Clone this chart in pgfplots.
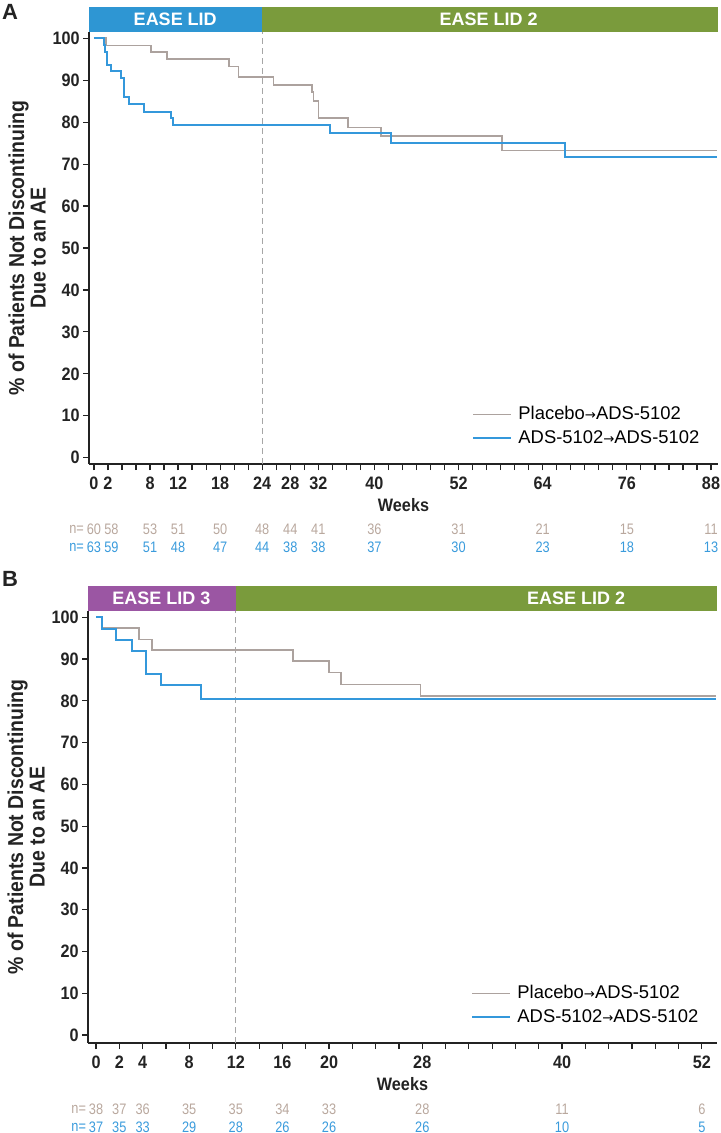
\documentclass[border=0pt]{standalone}
\usepackage{fontspec}
\setmainfont{Liberation Sans}
\newfontfamily\condfont[FakeStretch=0.9]{Liberation Sans}
\newfontfamily\narrowfont[FakeStretch=0.84]{Liberation Sans}
\newfontfamily\djv{DejaVu Sans}
\usepackage{pgfplots}
\pgfplotsset{compat=1.18}
\definecolor{cblue}{RGB}{52,152,219}
\definecolor{cgray}{RGB}{172,162,158}
\definecolor{hblue}{RGB}{46,150,211}
\definecolor{hgreen}{RGB}{122,155,60}
\definecolor{hpurple}{RGB}{155,86,163}
\definecolor{ngray}{RGB}{185,168,158}
\definecolor{nblue}{RGB}{58,155,220}
\definecolor{axc}{RGB}{35,35,35}
\newcommand\tickfont{\condfont\bfseries\fontsize{9}{11}\selectfont}
\newcommand\hfont{\bfseries\fontsize{9}{11}\selectfont}
\newcommand\nfont{\narrowfont\fontsize{7.6}{8.5}\selectfont}
\newcommand\arr{{\djv\fontsize{6.6}{8}\selectfont →}}
\pgfplotsset{kmstyle/.style={
  scale only axis, width=314.5pt, height=216pt,
  /pgf/number format/assume math mode=true,
  axis lines=left, axis line style={line width=0.8pt, draw=axc, -},
  ymin=-1.5, ymax=101.5, ytick={0,10,...,100},
  tick style={line width=0.6pt, draw=axc},
  tick align=outside,
  major tick length=3pt, minor tick length=3pt,
  ticklabel style={font=\tickfont, text=axc},
  yticklabel style={inner sep=1.5pt},
  clip=false,
  ylabel={\% of Patients Not Discontinuing\\Due to an AE},
  ylabel style={align=center, font=\condfont\bfseries\fontsize{10.8}{10.75}\selectfont, text=axc,
     at={(axis description cs:-0.0985,0.5)}, anchor=center},
  xlabel={Weeks},
  xlabel style={font=\tickfont, text=axc, at={(axis description cs:0.5,-0.0949)}, anchor=center},
  legend cell align=left,
  legend image code/.code={\draw[#1] (0pt,0pt) -- (19pt,0pt);},
  legend style={at={(rel axis cs:0.609,0.038)}, anchor=south west, draw=none, fill=none,
     font=\fontsize{9.2}{10}\selectfont, inner sep=0pt, row sep=3.2pt, column sep=3pt,
     nodes={inner sep=0pt, text height=6.8pt, text depth=2pt}},
}}
\begin{document}
\begin{tikzpicture}
\useasboundingbox (0,0) rectangle (360.5pt,-566.5pt);
\node[font=\bfseries\fontsize{11}{12}\selectfont, text=axc] at (5pt,-6pt) {A};
\node[font=\bfseries\fontsize{11}{12}\selectfont, text=axc] at (5pt,-289.5pt) {B};
% ---------------- Panel A
\begin{axis}[kmstyle, at={(44.5pt,-232pt)}, anchor=south west,
  xmin=-0.7, xmax=89,
  xtick={0,2,8,12,18,24,28,32,40,52,64,76,88},
  minor xtick={0,2,...,88}]
\fill[hblue] (rel axis cs:0,1) rectangle ([yshift=12.5pt]axis cs:24,101.5);
\fill[hgreen] (axis cs:24,101.5) rectangle ([yshift=12.5pt]rel axis cs:1,1);
\node[white, font=\hfont] at ([yshift=6.25pt]axis cs:11.6,101.5) {EASE LID};
\node[white, font=\hfont] at ([yshift=6.25pt]axis cs:56.3,101.5) {EASE LID 2};
\addplot[gray!70, line width=0.6pt, dash pattern=on 3pt off 2pt, forget plot] coordinates {(24,-1.5) (24,101.5)};
\addplot[cgray, line width=0.8pt, const plot] coordinates {
(0,100) (1.7,98.3) (8.1,96.7) (10.4,95.0) (19.3,93.3) (20.6,90.8) (25.6,88.9)
(31.1,87.2) (31.3,85.1) (32.0,81.0) (36.2,78.7) (40.9,76.7) (58.2,73.2) (88.8,73.2)};
\addlegendentry{Placebo\arr ADS-5102}
\addplot[cblue, line width=1pt, const plot] coordinates {
(0,100) (1.4,98.4) (1.55,96.8) (1.8,93.7) (2.4,92.1) (3.8,90.5) (4.3,85.9) (5.0,84.3)
(7.1,82.5) (11.0,81.0) (11.3,79.4) (33.6,77.3) (42.4,75.1) (67.2,71.7) (88.8,71.7)};
\addlegendentry{ADS-5102\arr ADS-5102}
\addplot[draw=none, forget plot, nodes near coords, point meta=explicit symbolic,
  nodes near coords style={anchor=center, text=ngray, font=\nfont, inner sep=0pt}] coordinates {
(0,-17.1)[60] (2.5,-17.1)[58] (8,-17.1)[53] (12,-17.1)[51] (18,-17.1)[50] (24,-17.1)[48]
(28,-17.1)[44] (32,-17.1)[41] (40,-17.1)[36] (52,-17.1)[31] (64,-17.1)[21] (76,-17.1)[15] (88,-17.1)[11]};
\addplot[draw=none, forget plot, nodes near coords, point meta=explicit symbolic,
  nodes near coords style={anchor=center, text=nblue, font=\nfont, inner sep=0pt}] coordinates {
(0,-21.4)[63] (2.5,-21.4)[59] (8,-21.4)[51] (12,-21.4)[48] (18,-21.4)[47] (24,-21.4)[44]
(28,-21.4)[38] (32,-21.4)[38] (40,-21.4)[37] (52,-21.4)[30] (64,-21.4)[23] (76,-21.4)[18] (88,-21.4)[13]};
\node[anchor=east, text=ngray, font=\nfont, inner sep=0pt] at ([xshift=-4.8pt]axis cs:0,-17.1) {n=};
\node[anchor=east, text=nblue, font=\nfont, inner sep=0pt] at ([xshift=-4.8pt]axis cs:0,-21.4) {n=};
\end{axis}
% ---------------- Panel B
\begin{axis}[kmstyle, at={(44pt,-521.5pt)}, anchor=south west,
  xmin=-0.69, xmax=53.3, ymin=-1.9,
  xtick={0,2,4,8,12,16,20,28,40,52},
  minor xtick={0,2,...,52}]
\fill[hpurple] (rel axis cs:0,1) rectangle ([yshift=12.5pt]axis cs:12,101.5);
\fill[hgreen] (axis cs:12,101.5) rectangle ([yshift=12.5pt]rel axis cs:1,1);
\node[white, font=\hfont] at ([yshift=6.25pt]axis cs:5.6,101.5) {EASE LID 3};
\node[white, font=\hfont] at ([yshift=6.25pt]axis cs:41.2,101.5) {EASE LID 2};
\addplot[gray!70, line width=0.6pt, dash pattern=on 3pt off 2pt, forget plot] coordinates {(12,-1.9) (12,101.5)};
\addplot[cgray, line width=0.8pt, const plot] coordinates {
(0,100) (0.5,97.4) (3.7,94.7) (4.8,92.1) (16.9,89.5) (20.0,86.8) (21.0,83.9) (27.85,81.2) (53.2,81.2)};
\addlegendentry{Placebo\arr ADS-5102}
\addplot[cblue, line width=1pt, const plot] coordinates {
(0,100) (0.5,97.3) (1.7,94.6) (3.1,91.9) (4.3,86.5) (5.6,83.8) (9.0,80.5) (53.2,80.5)};
\addlegendentry{ADS-5102\arr ADS-5102}
\addplot[draw=none, forget plot, nodes near coords, point meta=explicit symbolic,
  nodes near coords style={anchor=center, text=ngray, font=\nfont, inner sep=0pt}] coordinates {
(0,-17.7)[38] (2,-17.7)[37] (4,-17.7)[36] (8,-17.7)[35] (12,-17.7)[35] (16,-17.7)[34]
(20,-17.7)[33] (28,-17.7)[28] (40,-17.7)[11] (52,-17.7)[6]};
\addplot[draw=none, forget plot, nodes near coords, point meta=explicit symbolic,
  nodes near coords style={anchor=center, text=nblue, font=\nfont, inner sep=0pt}] coordinates {
(0,-22.0)[37] (2,-22.0)[35] (4,-22.0)[33] (8,-22.0)[29] (12,-22.0)[28] (16,-22.0)[26]
(20,-22.0)[26] (28,-22.0)[26] (40,-22.0)[10] (52,-22.0)[5]};
\node[anchor=east, text=ngray, font=\nfont, inner sep=0pt] at ([xshift=-4.8pt]axis cs:0,-17.7) {n=};
\node[anchor=east, text=nblue, font=\nfont, inner sep=0pt] at ([xshift=-4.8pt]axis cs:0,-22.0) {n=};
\end{axis}
\end{tikzpicture}
\end{document}
